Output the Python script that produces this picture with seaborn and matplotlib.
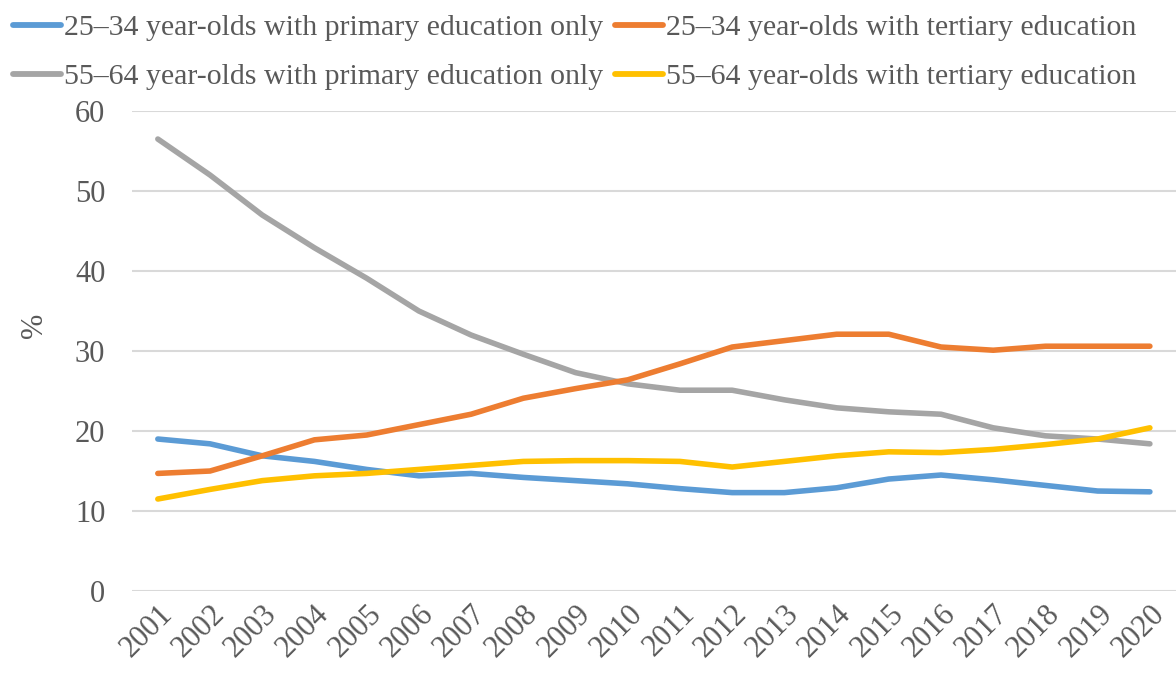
import matplotlib
matplotlib.use("Agg")
import matplotlib.pyplot as plt
import seaborn as sns
import pandas as pd

years = [str(y) for y in range(2001, 2021)]
young_primary = [19.0, 18.4, 16.9, 16.2, 15.2, 14.4, 14.7, 14.2, 13.8, 13.4,
                 12.8, 12.3, 12.3, 12.9, 14.0, 14.5, 13.9, 13.2, 12.5, 12.4]
young_tertiary = [14.7, 15.0, 16.9, 18.9, 19.5, 20.8, 22.1, 24.1, 25.3, 26.4,
                  28.4, 30.5, 31.3, 32.1, 32.1, 30.5, 30.1, 30.6, 30.6, 30.6]
old_primary = [56.5, 52.0, 47.0, 42.9, 39.1, 35.0, 32.0, 29.6, 27.3, 25.9,
               25.1, 25.1, 23.9, 22.9, 22.4, 22.1, 20.4, 19.4, 19.0, 18.4]
old_tertiary = [11.5, 12.7, 13.8, 14.4, 14.7, 15.2, 15.7, 16.2, 16.3, 16.3,
                16.2, 15.5, 16.2, 16.9, 17.4, 17.3, 17.7, 18.3, 19.0, 20.4]

series_names = [
    "25\u201334 year-olds with primary education only",
    "55\u201364 year-olds with primary education only",
    "25\u201334 year-olds with tertiary education",
    "55\u201364 year-olds with tertiary education",
]
series_values = [young_primary, old_primary, young_tertiary, old_tertiary]
colors = ["#5B9BD5", "#A5A5A5", "#ED7D31", "#FFC000"]

rows = []
for name, vals in zip(series_names, series_values):
    for y, v in zip(years, vals):
        rows.append({"year": y, "value": v, "series": name})
df = pd.DataFrame(rows)

sns.set_theme(style="white")
plt.rcParams["font.family"] = ["Liberation Serif", "DejaVu Serif"]
text_color = "#595959"
fs = 22

fig = plt.figure(figsize=(11.76, 6.77), dpi=100)
ax = fig.add_axes([0.112, 0.127, 0.888, 0.709])

sns.lineplot(data=df, x="year", y="value", hue="series", hue_order=series_names,
             palette=colors, linewidth=4.0, sort=False, ax=ax, legend=True)
for line in ax.get_lines():
    line.set_solid_capstyle("round")
    line.set_solid_joinstyle("round")

ax.set_xlim(-0.5, len(years) - 0.5)
ax.set_ylim(0, 60)
ax.set_yticks(range(0, 61, 10))
ax.yaxis.grid(True, color="#D9D9D9", linewidth=1.5)
ax.set_axisbelow(True)
for s in ax.spines.values():
    s.set_visible(False)
ax.tick_params(axis="both", length=0, labelsize=fs, labelcolor=text_color)
ax.tick_params(axis="y", pad=19)
ax.set_xticks(range(len(years)))
ax.set_xticklabels(years, rotation=45, ha="right", rotation_mode="anchor")
ax.tick_params(axis="x", pad=6)
ax.set_xlabel("")
ax.set_ylabel("%", fontsize=fs, color=text_color)
ax.yaxis.set_label_coords(-0.079, 0.554)

handles, labels = ax.get_legend_handles_labels()
leg = ax.legend(handles, labels, ncol=2, loc="upper left", bbox_to_anchor=(0.006, 0.988),
                bbox_transform=fig.transFigure, frameon=False, fontsize=21.5,
                labelcolor=text_color, handlelength=1.6, handletextpad=0.1,
                columnspacing=0.4, labelspacing=0.75, borderaxespad=0.0,
                borderpad=0.2)
for h in leg.get_lines():
    h.set_linewidth(4.2)
    h.set_solid_capstyle("round")

fig.savefig("out.png", dpi=100)
